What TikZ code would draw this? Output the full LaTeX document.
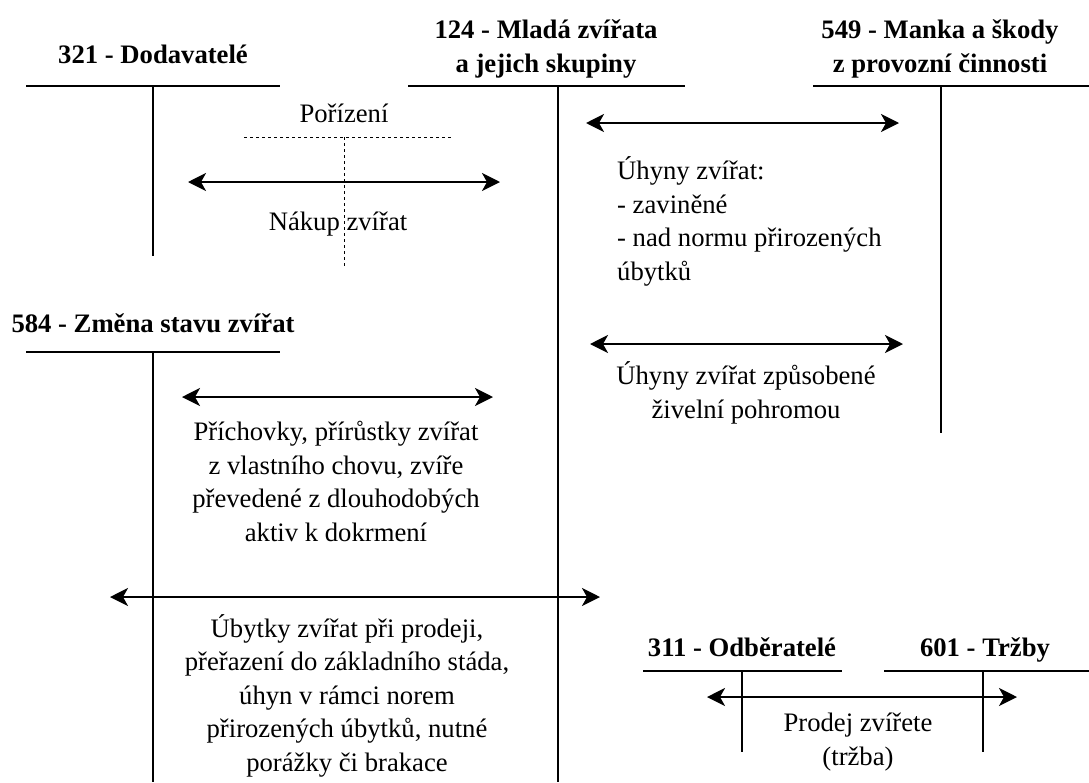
\documentclass[tikz,border=0pt]{standalone}
\usepackage{fontspec}
\setmainfont{Liberation Serif}
\usetikzlibrary{arrows.meta}
\begin{document}
\begin{tikzpicture}[x=1pt,y=-1pt,
  txt/.style={font=\fontsize{26.67}{33.5}\selectfont, inner sep=0pt, anchor=base, align=center},
  ttl/.style={font=\bfseries\fontsize{26.67}{34}\selectfont, inner sep=0pt, anchor=base, align=center},
  tline/.style={line width=2.6pt},
  vline/.style={line width=2pt},
  dline/.style={line width=1pt, dash pattern=on 3pt off 3pt},
  biarrow/.style={line width=2.2pt, {Stealth[length=18pt,width=18pt,inset=5pt]}-{Stealth[length=18pt,width=18pt,inset=5pt]}}
]
\useasboundingbox (0,0) rectangle (1089,782);

% 321 Dodavatele
\node[ttl] (t321) at (153,63) {321 - Dodavatelé};
\coordinate (a321l) at (26,86); \coordinate (a321r) at (280,86);
\coordinate (a321t) at (153,86); \coordinate (a321b) at (153,256);
\draw[tline] (a321l) -- (a321r);
\draw[vline] (a321t) -- (a321b);

% 124
\node[ttl] (t124) at (546,72) {124 - Mladá zvířata\\a jejich skupiny};
\coordinate (a124l) at (408,86); \coordinate (a124r) at (685,86);
\coordinate (a124t) at (558,86); \coordinate (a124b) at (558,782);
\draw[tline] (a124l) -- (a124r);
\draw[vline] (a124t) -- (a124b);

% 549
\node[ttl] (t549) at (940,72) {549 - Manka a škody\\z provozní činnosti};
\coordinate (a549l) at (813,86); \coordinate (a549r) at (1089,86);
\coordinate (a549t) at (941,86); \coordinate (a549b) at (941,433);
\draw[tline] (a549l) -- (a549r);
\draw[vline] (a549t) -- (a549b);

% dashed T
\node[txt] (por) at (344,122) {Pořízení};
\coordinate (dl) at (244,137); \coordinate (dr) at (452,137);
\coordinate (dt) at (344,137); \coordinate (db) at (344,267);
\draw[dline] (dl) -- (dr);
\draw[dline] (dt) -- (db);
\node[txt] (nak) at (338,230) {Nákup zvířat};

% arrow 1
\coordinate (r1l) at (188,182); \coordinate (r1r) at (500,182);
\draw[biarrow] (r1l) -- (r1r);

% arrow 2
\coordinate (r2l) at (586,123); \coordinate (r2r) at (899,123);
\draw[biarrow] (r2l) -- (r2r);
\node[txt, anchor=base west, align=left] (uhy) at (617,280) {Úhyny zvířat:\\- zaviněné\\- nad normu přirozených\\úbytků};

% 584
\node[ttl] (t584) at (153,332) {584 - Změna stavu zvířat};
\coordinate (a584l) at (26,352); \coordinate (a584r) at (280,352);
\coordinate (a584t) at (153,352); \coordinate (a584b) at (153,782);
\draw[tline] (a584l) -- (a584r);
\draw[vline] (a584t) -- (a584b);

% arrow 3
\coordinate (r3l) at (182,397); \coordinate (r3r) at (493,397);
\draw[biarrow] (r3l) -- (r3r);
\node[txt] (pri) at (336,541) {Příchovky, přírůstky zvířat\\z vlastního chovu, zvíře\\převedené z dlouhodobých\\aktiv k dokrmení};

% arrow 4
\coordinate (r4l) at (110,597); \coordinate (r4r) at (600,597);
\draw[biarrow] (r4l) -- (r4r);
\node[txt] (uby) at (347,771) {Úbytky zvířat při prodeji,\\přeřazení do základního stáda,\\úhyn v rámci norem\\přirozených úbytků, nutné\\porážky či brakace};

% arrow 5
\coordinate (r5l) at (590,344); \coordinate (r5r) at (903,344);
\draw[biarrow] (r5l) -- (r5r);
\node[txt] (ziv) at (746,418) {Úhyny zvířat způsobené\\živelní pohromou};

% 311
\node[ttl] (t311) at (742,656) {311 - Odběratelé};
\coordinate (a311l) at (643,671); \coordinate (a311r) at (842,671);
\coordinate (a311t) at (742,671); \coordinate (a311b) at (742,752);
\draw[tline] (a311l) -- (a311r);
\draw[vline] (a311t) -- (a311b);

% 601
\node[ttl] (t601) at (985,656) {601 - Tržby};
\coordinate (a601l) at (884,671); \coordinate (a601r) at (1089,671);
\coordinate (a601t) at (983,671); \coordinate (a601b) at (983,752);
\draw[tline] (a601l) -- (a601r);
\draw[vline] (a601t) -- (a601b);

% arrow 6
\coordinate (r6l) at (707,697); \coordinate (r6r) at (1017,697);
\draw[biarrow] (r6l) -- (r6r);
\node[txt] (pro) at (858,765) {Prodej zvířete\\(tržba)};
\end{tikzpicture}
\end{document}
